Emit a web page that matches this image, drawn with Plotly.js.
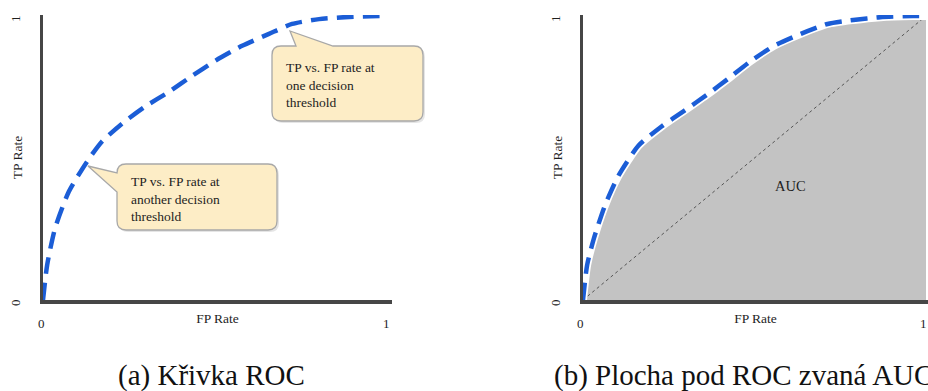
<!DOCTYPE html>
<html>
<head>
<meta charset="utf-8">
<script src="https://cdn.plot.ly/plotly-3.0.1.min.js"></script>
<style>html,body{margin:0;padding:0;background:#fff;}#chart{width:928px;height:391px;}</style>
</head>
<body>
<div id="chart"></div>
<script>
// ---- data ----
const fpRoc = [0, 0.012, 0.035, 0.075, 0.128, 0.171, 0.229, 0.296, 0.365, 0.432, 0.499, 0.577, 0.655, 0.722, 0.800, 0.875, 0.950, 1.0];
const tpRoc = [0, 0.123, 0.253, 0.382, 0.488, 0.558, 0.621, 0.681, 0.733, 0.789, 0.842, 0.895, 0.937, 0.972, 0.989, 0.996, 0.999, 1.0];
const fpAuc = [0, 0.012, 0.032, 0.064, 0.104, 0.162, 0.229, 0.296, 0.365, 0.423, 0.490, 0.557, 0.635, 0.713, 0.788, 0.867, 0.962, 1.0];
const tpAuc = [0, 0.123, 0.218, 0.333, 0.439, 0.544, 0.611, 0.667, 0.726, 0.779, 0.842, 0.895, 0.937, 0.972, 0.986, 0.996, 1.0, 1.0];
const diagX = [0, 1];
const diagY = [0, 1];
const tickVals = [0, 1];
const tickText = ['0', '1'];
const xTitle = 'FP Rate';
const yTitle = 'TP Rate';
const aucLabel = 'AUC';
const aucLabelPos = [0.606, 0.40];
const calloutOne = 'TP vs. FP rate at<br>one decision<br>threshold';
const calloutAnother = 'TP vs. FP rate at<br>another decision<br>threshold';
const captionA = '(a) Křivka ROC';
const captionB = '(b) Plocha pod ROC zvaná AUC';

// ---- styling ----
const W = 928, H = 391;
const SERIF = 'Liberation Serif';
const BLUE = '#1b5dd6';
const AXIS = '#464646';
const TXT = '#1e1e1e';
const px = v => v / W;
const py = v => 1 - v / H;

const traces = [
  {x: fpRoc, y: tpRoc, xaxis: 'x', yaxis: 'y', mode: 'lines',
   line: {color: BLUE, width: 4.5, dash: '17px,9px', shape: 'spline', smoothing: 0.6}, hoverinfo: 'skip'},
  {x: fpAuc, y: tpAuc, xaxis: 'x2', yaxis: 'y2', mode: 'lines', fill: 'tozeroy',
   fillcolor: '#c3c3c3', line: {color: 'rgba(0,0,0,0)', width: 0, shape: 'spline', smoothing: 0.6}, hoverinfo: 'skip'},
  {x: diagX, y: diagY, xaxis: 'x2', yaxis: 'y2', mode: 'lines',
   line: {color: '#555555', width: 1, dash: '3px,3px'}, hoverinfo: 'skip'},
  {x: fpAuc, y: tpAuc, xaxis: 'x2', yaxis: 'y2', mode: 'lines',
   line: {color: '#ffffff', width: 8, shape: 'spline', smoothing: 0.6}, hoverinfo: 'skip'},
  {x: fpAuc, y: tpAuc, xaxis: 'x2', yaxis: 'y2', mode: 'lines',
   line: {color: BLUE, width: 4.5, dash: '17px,9px', shape: 'spline', smoothing: 0.6}, hoverinfo: 'skip'}
];

function axisX(domain, range, anchor) {
  return {domain, range, anchor, showgrid: false, zeroline: false, showline: true,
    linecolor: AXIS, linewidth: 3.5, ticks: '', showticklabels: false, fixedrange: true,
    title: {text: xTitle, font: {family: SERIF, size: 13.5, color: TXT}, standoff: 12}};
}
function axisY(domain, range, anchor) {
  return {domain, range, anchor, showgrid: false, zeroline: false, showline: true,
    linecolor: AXIS, linewidth: 3.5, ticks: '', showticklabels: false, fixedrange: true,
    title: {text: yTitle, font: {family: SERIF, size: 13.5, color: TXT}, standoff: 15}};
}

const yDom = [1 - 300 / H, 1 - 15 / H];
const layout = {
  width: W, height: H, margin: {l: 0, r: 0, t: 0, b: 0},
  font: {family: SERIF, color: TXT},
  paper_bgcolor: '#ffffff', plot_bgcolor: 'rgba(0,0,0,0)', showlegend: false,
  xaxis: axisX([43 / W, 392 / W], [0, 349 / 345], 'y'),
  yaxis: axisY(yDom, [0, 285 / 284], 'x'),
  xaxis2: axisX([583 / W, 1], [0, 345 / 343], 'y2'),
  yaxis2: axisY(yDom, [0, 285 / 284], 'x2'),
  annotations: [],
  shapes: []
};

const tickFont = {family: SERIF, size: 13, color: TXT};
[['x', 'y', -2], ['x2', 'y2', -3]].forEach(([xr, yr, xs]) => {
  tickVals.forEach((v, i) => {
    layout.annotations.push({xref: xr, yref: yr, x: v, y: 0, text: tickText[i], showarrow: false,
      xanchor: 'center', yanchor: 'middle', xshift: xs, yshift: -23, font: tickFont});
    layout.annotations.push({xref: xr, yref: yr, x: 0, y: v, text: tickText[i], showarrow: false,
      xanchor: 'center', yanchor: 'middle', xshift: -28, yshift: -3, textangle: -90, font: tickFont});
  });
});

layout.annotations.push({xref: 'x2', yref: 'y2', x: aucLabelPos[0], y: aucLabelPos[1], text: aucLabel,
  showarrow: false, font: {family: SERIF, size: 14.5, color: TXT}});

// callout bubbles (decorations, pixel geometry)
function bubble(x0, y0, x1, y1, tail, r) {
  const P = (x, y) => px(x).toFixed(5) + ',' + py(y).toFixed(5);
  if (tail.side === 'top') {
    return `M${P(x0 + r, y0)} L${P(tail.pts[0][0], tail.pts[0][1])} L${P(tail.pts[1][0], tail.pts[1][1])} L${P(tail.pts[2][0], tail.pts[2][1])} L${P(x1 - r, y0)} Q${P(x1, y0)} ${P(x1, y0 + r)} L${P(x1, y1 - r)} Q${P(x1, y1)} ${P(x1 - r, y1)} L${P(x0 + r, y1)} Q${P(x0, y1)} ${P(x0, y1 - r)} L${P(x0, y0 + r)} Q${P(x0, y0)} ${P(x0 + r, y0)} Z`;
  }
  return `M${P(x0 + r, y0)} L${P(x1 - r, y0)} Q${P(x1, y0)} ${P(x1, y0 + r)} L${P(x1, y1 - r)} Q${P(x1, y1)} ${P(x1 - r, y1)} L${P(x0 + r, y1)} Q${P(x0, y1)} ${P(x0, y1 - r)} L${P(tail.pts[2][0], tail.pts[2][1])} L${P(tail.pts[1][0], tail.pts[1][1])} L${P(tail.pts[0][0], tail.pts[0][1])} L${P(x0, y0 + r)} Q${P(x0, y0)} ${P(x0 + r, y0)} Z`;
}
const b1 = bubble(272, 46, 423, 121, {side: 'top', pts: [[296, 46], [290, 31], [333, 46]]}, 9);
const b1s = bubble(274, 48, 425, 123, {side: 'top', pts: [[298, 48], [292, 33], [335, 48]]}, 9);
const b2 = bubble(117, 164, 277, 230, {side: 'left', pts: [[117, 173], [88, 166], [117, 192]]}, 9);
const b2s = bubble(119, 166, 279, 232, {side: 'left', pts: [[119, 175], [90, 168], [119, 194]]}, 9);
[b1s, b2s].forEach(p => layout.shapes.push({type: 'path', xref: 'paper', yref: 'paper', path: p,
  fillcolor: 'rgba(0,0,0,0.10)', line: {width: 0}, layer: 'above'}));
[b1, b2].forEach(p => layout.shapes.push({type: 'path', xref: 'paper', yref: 'paper', path: p,
  fillcolor: '#fdedc6', line: {color: '#a8a8a8', width: 1.3}, layer: 'above'}));

const calloutFont = {family: SERIF, size: 13.5, color: TXT};
layout.annotations.push({xref: 'paper', yref: 'paper', x: px(284), y: py(85), text: calloutOne,
  showarrow: false, xanchor: 'left', yanchor: 'middle', align: 'left', font: calloutFont});
layout.annotations.push({xref: 'paper', yref: 'paper', x: px(129), y: py(199), text: calloutAnother,
  showarrow: false, xanchor: 'left', yanchor: 'middle', align: 'left', font: calloutFont});

const capFont = {family: SERIF, size: 29, color: '#111111'};
layout.annotations.push({xref: 'paper', yref: 'paper', x: px(116), y: py(375.5), text: captionA,
  showarrow: false, xanchor: 'left', yanchor: 'middle', font: capFont});
layout.annotations.push({xref: 'paper', yref: 'paper', x: px(552), y: py(375.5), text: captionB,
  showarrow: false, xanchor: 'left', yanchor: 'middle', font: capFont});

Plotly.newPlot('chart', traces, layout, {staticPlot: true, displayModeBar: false});
</script>
</body>
</html>
